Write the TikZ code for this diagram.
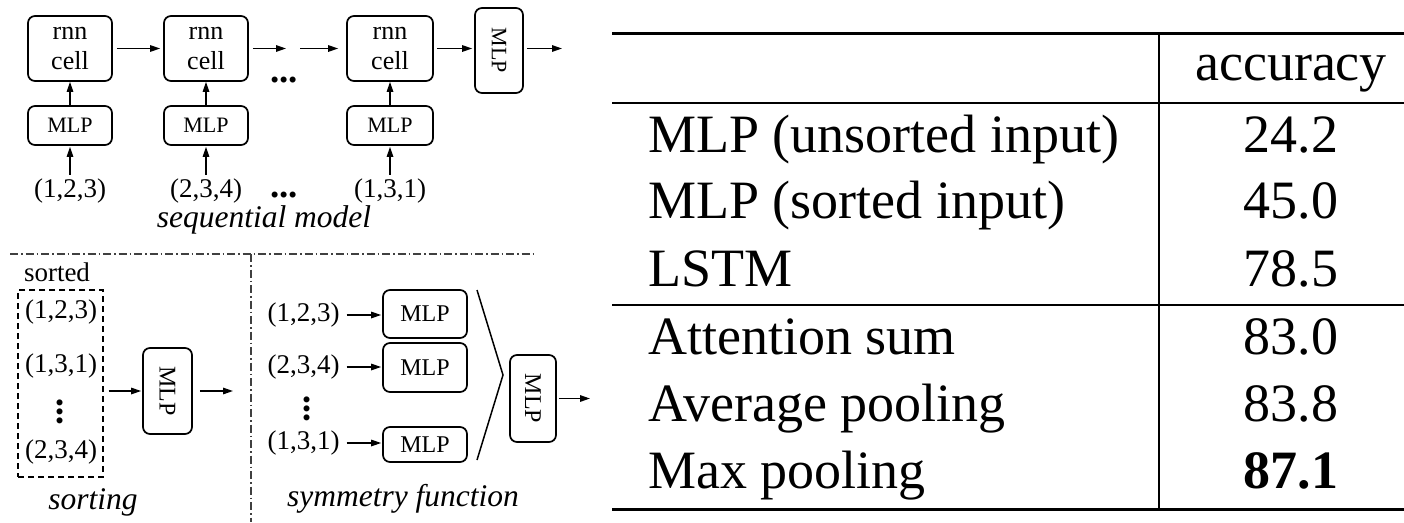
\documentclass[tikz,border=0pt]{standalone}
\usepackage{fontspec}
\usepackage{graphicx}
\setmainfont{Liberation Serif}
\usetikzlibrary{arrows.meta}
\tikzset{
  arr/.style={-{Triangle[length=10pt,width=6.5pt]}, line width=1.4pt},
  rbox/.style={draw, line width=1.7pt, rounded corners=7pt, inner sep=0pt, align=center},
  lab/.style={inner sep=0pt},
  fcell/.style={font=\fontsize{26}{30}\selectfont},
  fmlp/.style={font=\fontsize{22}{24}\selectfont},
  fmlpb/.style={font=\fontsize{24}{26}\selectfont},
  ftup/.style={font=\fontsize{27}{30}\selectfont},
  fcap/.style={font=\fontsize{31.5}{36}\selectfont\itshape},
  fdots/.style={font=\fontsize{37}{37}\selectfont\bfseries},
  ftab/.style={font=\fontsize{54}{60}\selectfont},
  dd/.style={line width=1.2pt, dash pattern=on 8pt off 3pt on 1.5pt off 3pt, black!75},
}
\begin{document}
\begin{tikzpicture}[x=1pt,y=-1pt]
\useasboundingbox (0,0) rectangle (1404,522);
% ---------- sequential model ----------
\node[rbox, fcell, minimum width=84, minimum height=65] (r1) at (70,48.5) {rnn\\cell};
\node[rbox, fcell, minimum width=84, minimum height=65] (r2) at (206,48.5) {rnn\\cell};
\node[rbox, fcell, minimum width=86, minimum height=65] (r3) at (390,48.5) {rnn\\cell};
\node[rbox, fmlp, minimum width=48, minimum height=85] (mt) at (499,50.5) {\rotatebox{-90}{MLP}};
\node[rbox, fmlp, minimum width=84, minimum height=39] (m1) at (70,125.5) {MLP};
\node[rbox, fmlp, minimum width=84, minimum height=39] (m2) at (206,125.5) {MLP};
\node[rbox, fmlp, minimum width=86, minimum height=39] (m3) at (390,125.5) {MLP};
\node[lab, ftup] (i1) at (70,191) {(1,2,3)};
\node[lab, ftup] (i2) at (206,191) {(2,3,4)};
\node[lab, ftup] (i3) at (390,191) {(1,3,1)};
\node[lab, fdots] (dt1) at (284,80) {...};
\node[lab, fdots] (dt2) at (284,195) {...};
\node[lab, fcap, anchor=base] (capseq) at (264,227) {sequential model};
\coordinate (a2e) at (286,48.5);
\coordinate (a3s) at (300,48.5);
\coordinate (oute) at (562,48.5);
\draw[arr, shorten <=4pt, shorten >=3pt] (r1) -- (r2);
\draw[arr, shorten <=4pt] (r2) -- (a2e);
\draw[arr, shorten >=8pt] (a3s) -- (r3);
\draw[arr, shorten <=3pt, shorten >=2pt] (r3.east) -- (r3.east -| mt.west);
\draw[arr, shorten <=3pt] (mt.east |- oute) -- (oute);
\draw[arr] (m1) -- (r1);
\draw[arr] (m2) -- (r2);
\draw[arr] (m3) -- (r3);
\draw[arr, shorten >=1pt] (i1.north) ++(0,-4) -- (m1.south);
\draw[arr, shorten >=1pt] (i2.north) ++(0,-4) -- (m2.south);
\draw[arr, shorten >=1pt] (i3.north) ++(0,-4) -- (m3.south);
% ---------- separators ----------
\coordinate (hl) at (10,254);
\coordinate (hr) at (535,254);
\coordinate (vt) at (251,254);
\coordinate (vb) at (251,522);
\draw[dd] (hl) -- (hr);
\draw[dd] (vt) -- (vb);
% ---------- sorting ----------
\node[lab, ftup, anchor=base] (sorted) at (57,281) {sorted};
\node[draw, line width=1.3pt, dash pattern=on 6pt off 4pt, minimum width=85, minimum height=187, inner sep=0pt] (sbox) at (60.5,383.5) {};
\node[lab, ftup] (s1) at (61,312) {(1,2,3)};
\node[lab, ftup] (s2) at (61,366) {(1,3,1)};
\node[lab, fdots, rotate=90] (s3) at (60,412) {...};
\node[lab, ftup] (s4) at (61,452) {(2,3,4)};
\node[rbox, fmlpb, minimum width=49, minimum height=86] (m4) at (167.5,391) {\rotatebox{-90}{MLP}};
\coordinate (o4) at (233,391);
\draw[arr, shorten <=5pt, shorten >=1pt] (sbox.east |- m4.west) -- (m4.west);
\draw[arr, shorten <=7pt] (m4.east) -- (o4);
\node[lab, fcap, anchor=base] (capsort) at (93,509) {sorting};
% ---------- symmetry function ----------
\node[lab, ftup] (t1) at (303.5,315) {(1,2,3)};
\node[lab, ftup] (t2) at (303.5,367) {(2,3,4)};
\node[lab, fdots, rotate=90] (t3) at (307,409) {...};
\node[lab, ftup] (t4) at (303.5,443) {(1,3,1)};
\node[rbox, fmlpb, minimum width=84, minimum height=48] (b1) at (425,314) {MLP};
\node[rbox, fmlpb, minimum width=84, minimum height=49] (b2) at (425,367.5) {MLP};
\node[rbox, fmlpb, minimum width=84, minimum height=35] (b3) at (425,444.5) {MLP};
\draw[arr, shorten <=7pt, shorten >=1pt] (t1.east) -- (t1.east -| b1.west);
\draw[arr, shorten <=7pt, shorten >=1pt] (t2.east) -- (t2.east -| b2.west);
\draw[arr, shorten <=7pt, shorten >=1pt] (t4.east) -- (t4.east -| b3.west);
\coordinate (c1) at (477,290);
\coordinate (c2) at (503,375);
\coordinate (c3) at (477,460);
\draw[line width=1.5pt] (c1) -- (c2) -- (c3);
\node[rbox, fmlpb, minimum width=46, minimum height=87] (m5) at (533,398.5) {\rotatebox{-90}{MLP}};
\coordinate (o5) at (590,398.5);
\draw[arr, shorten <=2pt] (m5.east) -- (o5);
\node[lab, fcap, anchor=base] (capsym) at (403,506) {symmetry function};
% ---------- table ----------
\coordinate (tl) at (612,33);
\coordinate (tr) at (1404,33);
\coordinate (hl2) at (612,103);
\coordinate (hr2) at (1404,103);
\coordinate (ml) at (612,305);
\coordinate (mr) at (1404,305);
\coordinate (bl) at (612,509);
\coordinate (br) at (1404,509);
\coordinate (vtop) at (1159,33);
\coordinate (vbot) at (1159,509);
\draw[line width=3pt] (tl) -- (tr);
\draw[line width=2pt] (hl2) -- (hr2);
\draw[line width=2pt] (ml) -- (mr);
\draw[line width=3pt] (bl) -- (br);
\draw[line width=2pt] (vtop) -- (vbot);
\node[lab, ftab, anchor=base] (hacc) at (1291,80) {accuracy};
\node[lab, ftab, anchor=base west] (n1) at (648,152) {MLP (unsorted input)};
\node[lab, ftab, anchor=base west] (n2) at (648,218) {MLP (sorted input)};
\node[lab, ftab, anchor=base west] (n3) at (648,286) {LSTM};
\node[lab, ftab, anchor=base west] (n4) at (648,354) {Attention sum};
\node[lab, ftab, anchor=base west] (n5) at (648,421) {Average pooling};
\node[lab, ftab, anchor=base west] (n6) at (648,488) {Max pooling};
\node[lab, ftab, anchor=base] (v1) at (1291,152) {24.2};
\node[lab, ftab, anchor=base] (v2) at (1291,218) {45.0};
\node[lab, ftab, anchor=base] (v3) at (1291,286) {78.5};
\node[lab, ftab, anchor=base] (v4) at (1291,354) {83.0};
\node[lab, ftab, anchor=base] (v5) at (1291,421) {83.8};
\node[lab, ftab, anchor=base] (v6) at (1291,488) {\textbf{87.1}};
\end{tikzpicture}
\end{document}
